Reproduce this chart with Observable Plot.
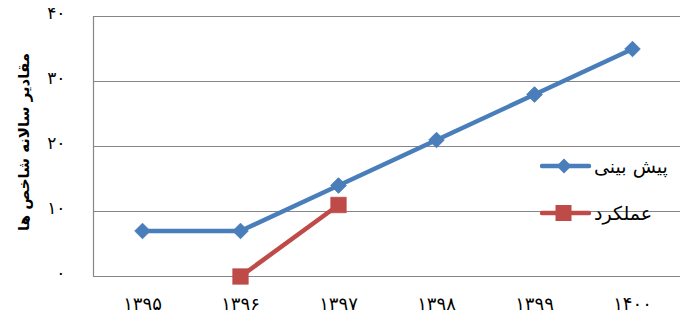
<!DOCTYPE html>
<html>
<head>
<meta charset="utf-8">
<script src="https://cdn.jsdelivr.net/npm/d3@7"></script>
<script src="https://cdn.jsdelivr.net/npm/@observablehq/plot@0.6"></script>
<style>
  html, body { margin: 0; padding: 0; background: #fff; }
  #wrap { position: relative; width: 680px; height: 322px; font-family: "DejaVu Sans", sans-serif; }
  #legend { position: absolute; left: 540px; top: 153px; }
  .item { display: flex; align-items: center; height: 26px; margin-bottom: 21px; }
  .item span { font-size: 19px; margin-left: 3px; color: #000; line-height: 26px; }
</style>
</head>
<body>
<div id="wrap"></div>
<script>
const years = ["1395", "1396", "1397", "1398", "1399", "1400"];
const yearLabels = ["۱۳۹۵", "۱۳۹۶", "۱۳۹۷", "۱۳۹۸", "۱۳۹۹", "۱۴۰۰"];
const forecast = [7, 7, 14, 21, 28, 35];
const actualYears = ["1396", "1397"];
const actual = [0, 11];
const yTicks = [0, 10, 20, 30, 40];
const yTickLabels = ["۰", "۱۰", "۲۰", "۳۰", "۴۰"];
const seriesNames = ["پیش بینی", "عملکرد"];
const yTitle = "مقادیر سالانه شاخص ها";
const colors = ["#4A7EBB", "#BE4B48"];

const forecastData = years.map((y, i) => ({year: y, value: forecast[i]}));
const actualData = actualYears.map((y, i) => ({year: y, value: actual[i]}));

const chart = Plot.plot({
  width: 680,
  height: 322,
  marginLeft: 93,
  marginRight: -1,
  marginTop: 16,
  marginBottom: 46,
  style: {fontFamily: "DejaVu Sans, sans-serif", fontSize: "17px", color: "#000", background: "#fff", overflow: "visible"},
  x: {type: "point", domain: years, padding: 0.5, round: false},
  y: {domain: [0, 40]},
  marks: [
    Plot.ruleY(yTicks, {stroke: "#868686", strokeWidth: 1.2}),
    Plot.ruleX([years[0]], {dx: -49, y1: 0, y2: 40, stroke: "#868686", strokeWidth: 1.2}),
    Plot.axisY({ticks: yTicks, tickSize: 0, tickPadding: 28, dy: -3,
      tickFormat: (d) => yTickLabels[yTicks.indexOf(d)], fontSize: 17, label: null}),
    Plot.axisX({tickSize: 0, tickPadding: 21,
      tickFormat: (d) => yearLabels[years.indexOf(d)], fontSize: 18, label: null}),
    Plot.line(forecastData, {x: "year", y: "value", stroke: colors[0], strokeWidth: 4.5}),
    Plot.dot(forecastData, {x: "year", y: "value", symbol: "diamond2", r: 7, fill: colors[0], stroke: colors[0], strokeWidth: 1}),
    Plot.line(actualData, {x: "year", y: "value", stroke: colors[1], strokeWidth: 4.5}),
    Plot.dot(actualData, {x: "year", y: "value", symbol: "square2", r: 10, fill: colors[1], stroke: colors[1], strokeWidth: 0.5})
  ]
});

// vertical axis title
d3.select(chart).append("text")
  .attr("transform", "translate(29,142) rotate(-90)")
  .attr("text-anchor", "middle")
  .attr("font-weight", "bold")
  .attr("font-size", 15)
  .attr("fill", "#000")
  .text(yTitle);

const wrap = document.getElementById("wrap");
wrap.appendChild(chart);

// legend
const legend = document.createElement("div");
legend.id = "legend";
const symbols = ["diamond", "square"];
seriesNames.forEach((name, i) => {
  const item = document.createElement("div");
  item.className = "item";
  const svg = d3.create("svg").attr("width", 51).attr("height", 26);
  svg.append("line").attr("x1", 2).attr("x2", 49).attr("y1", 13).attr("y2", 13)
    .attr("stroke", colors[i]).attr("stroke-width", 4.5).attr("stroke-linecap", "round");
  if (symbols[i] === "diamond") {
    svg.append("path").attr("d", "M24,5.5L31.5,13L24,20.5L16.5,13Z").attr("fill", colors[i]);
  } else {
    svg.append("rect").attr("x", 15.5).attr("y", 5).attr("width", 16).attr("height", 16).attr("fill", colors[i]);
  }
  item.appendChild(svg.node());
  const span = document.createElement("span");
  span.textContent = name;
  span.setAttribute("dir", "rtl");
  item.appendChild(span);
  legend.appendChild(item);
});
wrap.appendChild(legend);
</script>
</body>
</html>
